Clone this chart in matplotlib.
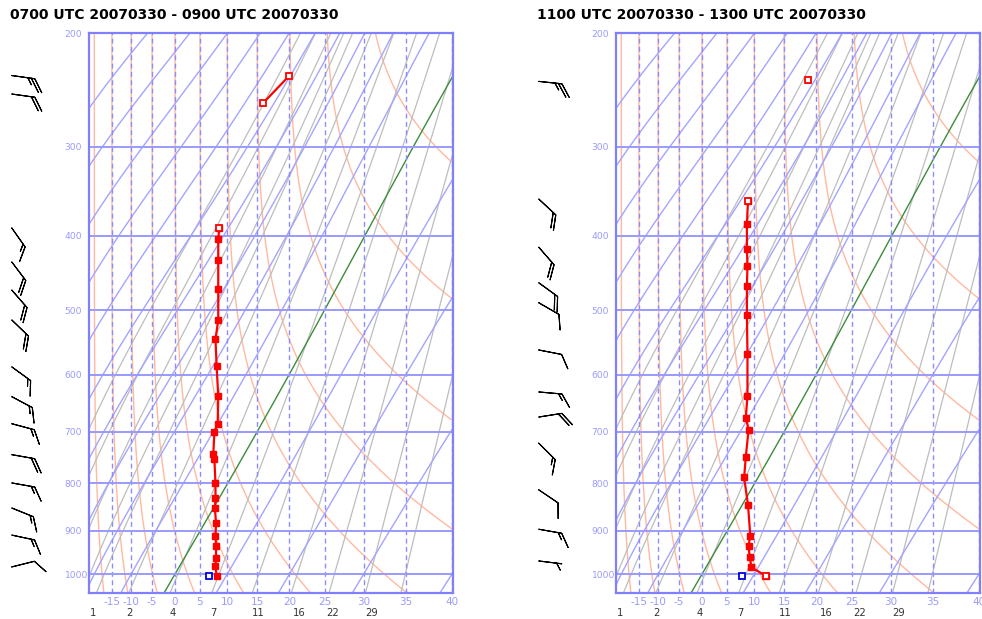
import numpy as np
import matplotlib
matplotlib.use("Agg")
import matplotlib.pyplot as plt
from matplotlib.transforms import blended_transform_factory

# ---------------- data ----------------
titles = ["0700 UTC 20070330 - 0900 UTC 20070330",
          "1100 UTC 20070330 - 1300 UTC 20070330"]
p_levels = [200, 300, 400, 500, 600, 700, 800, 900, 1000]
tw_ticks = [-15, -10, -5, 0, 5, 10, 15, 20, 25, 30, 35, 40]
w_labels = ["1", "2", "4", "7", "11", "16", "22", "29"]
w_label_tw = [-20.4, -10.5, -0.4, 7.6, 15.2, 21.4, 26.0, 31.0]

# background families
iso_blue = [-100, -90, -80, -70, -60, -50, -40, -30, -20, -10, 10, 20, 30, 40]
iso_green = [0]
mix_grey = [0.1, 0.2, 0.4, 0.7, 1, 2, 4, 7, 11, 16, 22, 29, 37]
dry_orange_tw = [-25, -20, -15, -10, -5, 0, 5, 10, 15, 20, 25, 30, 35]

# panel 1 profile (wet-bulb potential temperature, deg C)
p1_upper = [234, 258]
t1_upper = [20.0, 16.0]
p1_main = [390, 404, 431, 469, 514, 543, 585, 636, 685, 700, 742, 752,
           800, 829, 852, 884, 911, 934, 961, 981, 1005]
t1_main = [8.6, 8.4, 8.4, 8.4, 8.4, 7.9, 8.1, 8.4, 8.3, 7.7, 7.5, 7.7,
           7.9, 7.9, 7.8, 8.0, 7.9, 8.0, 8.0, 7.9, 8.1]
p1_hollow = [234, 258, 390]
t1_hollow = [20.0, 16.0, 8.6]
p1_dew = [1005]
t1_dew = [6.7]

# panel 2
p2_upper = [238]
t2_upper = [18.8]
p2_main = [358, 385, 416, 438, 465, 507, 566, 636, 674, 696, 747, 788,
           845, 911, 934, 959, 984, 1005]
t2_main = [8.9, 8.7, 8.7, 8.8, 8.7, 8.7, 8.8, 8.8, 8.5, 9.0, 8.5, 8.2,
           8.9, 9.3, 9.0, 9.2, 9.5, 12.1]
p2_hollow = [238, 358, 1005]
t2_hollow = [18.8, 8.9, 12.1]
p2_dew = [1005]
t2_dew = [7.9]

# wind barbs: pressure, direction (deg), speed (kt)
b1_p = [234, 250, 390, 433, 471, 514, 587, 637, 685, 743, 799, 851, 910, 983]
b1_dir = [98, 98, 145, 143, 139, 134, 126, 118, 105, 100, 100, 112, 102, 76]
b1_spd = [25, 20, 15, 20, 20, 20, 15, 15, 15, 20, 15, 15, 15, 10]
b2_p = [239, 356, 414, 461, 489, 560, 629, 673, 721, 813, 897, 969]
b2_dir = [96, 133, 139, 126, 120, 101, 95, 81, 135, 124, 100, 97]
b2_spd = [25, 20, 20, 20, 10, 10, 15, 20, 15, 10, 15, 5]

# ---------------- thermodynamics ----------------
KAPPA = 0.2854
C = 0.0175


def es(tc):
    return 6.112 * np.exp(17.67 * tc / (tc + 243.5))


def theta_e_sat(tc, p):
    tk = tc + 273.15
    e = es(tc)
    e = np.minimum(e, 0.9 * p)
    r = 0.622 * e / (p - e)
    th = tk * (1000.0 / (p - e)) ** KAPPA
    return th * np.exp((3376.0 / tk - 2.54) * r * (1 + 0.81 * r))


TW_TAB = np.linspace(-90, 60, 3001)
TE_TAB = theta_e_sat(TW_TAB, 1000.0)


def theta_w(tc, p):
    return np.interp(theta_e_sat(tc, p), TE_TAB, TW_TAB)


PP = np.linspace(190, 1060, 500)


def isotherm(tc):
    return theta_w(np.full_like(PP, tc), PP)


def mixing_line(r):
    e = r * PP / (622.0 + r)
    lg = np.log(e / 6.112)
    td = 243.5 * lg / (17.67 - lg)
    return theta_w(td, PP)


def dry_adiabat(tw0):
    th = np.interp(tw0, TW_TAB, TE_TAB)
    tk = th * (PP / 1000.0) ** KAPPA
    return theta_w(tk - 273.15, PP)


# ---------------- figure ----------------
W, H = 982, 619
fig = plt.figure(figsize=(W / 100, H / 100), dpi=100)


def px_rect(x0, y0, x1, y1):
    return [x0 / W, 1 - y1 / H, (x1 - x0) / W, (y1 - y0) / H]


def fwd(t):
    return np.exp(C * np.asarray(t, dtype=float))


def inv(u):
    return np.log(np.clip(np.asarray(u, dtype=float), 1e-9, None)) / C


def pf(p):
    return np.power(np.clip(np.asarray(p, dtype=float), 1e-9, None), 0.286)


def pi(y):
    return np.power(np.clip(np.asarray(y, dtype=float), 1e-9, None), 1 / 0.286)


BLUE_FRAME = "#8080ff"
BLUE_LINE = "#9a9aff"
BLUE_DASH = "#8c8cff"
BLUE_ISO = "#a4a4ff"
ORANGE = "#ffb9a0"
GREY = "#bdbdbd"
GREEN = "#3c8c3c"


def panel(x0, title, pm, tm, pu, tu, ph, th, pd, td, bp, bd, bs):
    ax = fig.add_axes(px_rect(x0, 33, x0 + 363.5, 592.7))
    ax.set_xscale("function", functions=(fwd, inv))
    ax.set_yscale("function", functions=(pf, pi))
    ax.set_xlim(-21.6, 40.06)
    ax.set_ylim(1045, 200)
    for tw in dry_orange_tw:
        ax.plot(dry_adiabat(tw), PP, color=ORANGE, lw=1.0, zorder=1)
    for r in mix_grey:
        ax.plot(mixing_line(r), PP, color=GREY, lw=0.9, zorder=1.2)
    for t in iso_blue:
        ax.plot(isotherm(t), PP, color=BLUE_ISO, lw=1.0, zorder=1.4)
    for t in iso_green:
        ax.plot(isotherm(t), PP, color=GREEN, lw=1.0, zorder=1.5)
    for t in tw_ticks:
        ax.axvline(t, color=BLUE_DASH, lw=1.0, dashes=(3.5, 2.5), zorder=2)
    for p in p_levels[1:]:
        ax.axhline(p, color=BLUE_LINE, lw=1.4, zorder=2)
    for s in ax.spines.values():
        s.set_color(BLUE_FRAME)
        s.set_linewidth(1.6)
        s.set_zorder(3)
    ax.set_yticks(p_levels)
    ax.set_yticklabels([str(p) for p in p_levels])
    ax.set_xticks(tw_ticks)
    ax.set_xticklabels([str(t) for t in tw_ticks])
    ax.tick_params(axis="both", length=0, colors="#9a9aff", labelsize=7.5)
    ax.tick_params(axis="y", pad=17.6, labelsize=6.6)
    ax.tick_params(axis="x", pad=3)
    for lab in ax.get_yticklabels():
        lab.set_horizontalalignment("left")
    ax.minorticks_off()
    trb = blended_transform_factory(ax.transData, ax.transAxes)
    for lab, t in zip(w_labels, w_label_tw):
        ax.text(t, -0.037, lab, transform=trb, ha="center", va="center",
                fontsize=7.2, color="#333333")
    # data
    ax.plot(tm, pm, color="red", lw=1.6, marker="s", ms=4.3, mfc="red",
            mec="red", zorder=5)
    if len(pu) > 1:
        ax.plot(tu, pu, color="red", lw=1.6, zorder=5)
    ax.plot(th, ph, ls="none", marker="s", ms=4.3, mfc="white", mec="red",
            mew=1.3, zorder=6)
    ax.plot(td, pd, ls="none", marker="s", ms=4.6, mfc="white", mec="#0000dd",
            mew=1.3, zorder=6)
    fig.text((x0 - 79) / W, 1 - 15 / H, title, fontsize=10, fontweight="bold",
             ha="left", va="center", color="black")
    # barbs
    bax = fig.add_axes(px_rect(x0 - 89, 33, x0, 592.7))
    bax.set_yscale("function", functions=(pf, pi))
    bax.set_ylim(1045, 200)
    bax.set_xlim(0, 89)
    bax.axis("off")
    d = np.deg2rad(bd)
    s = np.asarray(bs, dtype=float)
    u = -s * np.sin(d)
    v = -s * np.cos(d)
    bax.barbs(np.full(len(bp), 11.7), bp, u, v, length=5.8, lw=0.8,
              color="black", sizes=dict(height=0.55, width=0.75, spacing=0.15,
                                         emptybarb=0.0))
    return ax


panel(89, titles[0], p1_main, t1_main, p1_upper, t1_upper, p1_hollow,
      t1_hollow, p1_dew, t1_dew, b1_p, b1_dir, b1_spd)
panel(616, titles[1], p2_main, t2_main, p2_upper, t2_upper, p2_hollow,
      t2_hollow, p2_dew, t2_dew, b2_p, b2_dir, b2_spd)

fig.savefig("out.png", dpi=100)
